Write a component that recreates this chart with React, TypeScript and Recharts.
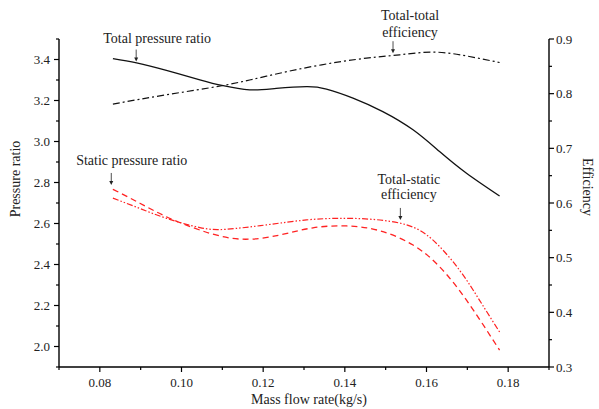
import { LineChart, Line, XAxis, YAxis, ReferenceDot } from 'recharts'

const FONT = '"Liberation Serif", "Times New Roman", serif'

// total pressure ratio (left axis)
const totalPrFlow = [0.0832, 0.089, 0.0963, 0.1045, 0.1102, 0.1167, 0.1232, 0.1306, 0.1355, 0.142, 0.1493, 0.1567, 0.1632, 0.1698, 0.1779]
const totalPr = [3.404, 3.383, 3.347, 3.301, 3.272, 3.252, 3.259, 3.268, 3.256, 3.212, 3.146, 3.057, 2.951, 2.845, 2.734]

// static pressure ratio (left axis)
const staticPrFlow = [0.0832, 0.0898, 0.0963, 0.1045, 0.1143, 0.1241, 0.1322, 0.1404, 0.1485, 0.1567, 0.1632, 0.1698, 0.1779]
const staticPr = [2.767, 2.699, 2.633, 2.568, 2.524, 2.544, 2.579, 2.588, 2.565, 2.495, 2.389, 2.226, 1.982]

// total-total efficiency (right axis)
const ttEffFlow = [0.0832, 0.0963, 0.1102, 0.1208, 0.133, 0.1453, 0.1534, 0.1616, 0.1698, 0.1779]
const ttEff = [0.781, 0.798, 0.815, 0.832, 0.851, 0.865, 0.871, 0.876, 0.869, 0.857]

// total-static efficiency (right axis)
const tsEffFlow = [0.0832, 0.0898, 0.0963, 0.1045, 0.111, 0.1208, 0.1306, 0.1388, 0.1469, 0.1551, 0.1616, 0.1681, 0.173, 0.1779]
const tsEff = [0.609, 0.59, 0.572, 0.555, 0.552, 0.56, 0.569, 0.572, 0.57, 0.56, 0.532, 0.477, 0.422, 0.364]

const xTicks = [0.07, 0.08, 0.09, 0.1, 0.11, 0.12, 0.13, 0.14, 0.15, 0.16, 0.17, 0.18, 0.19]
const leftTicks = [1.9, 2.0, 2.1, 2.2, 2.3, 2.4, 2.5, 2.6, 2.7, 2.8, 2.9, 3.0, 3.1, 3.2, 3.3, 3.4, 3.5]
const rightTicks = [0.3, 0.35, 0.4, 0.45, 0.5, 0.55, 0.6, 0.65, 0.7, 0.75, 0.8, 0.85, 0.9]

// annotation arrow tips, in data units
const noteText = [['Total pressure ratio'], ['Total-total', 'efficiency'], ['Static pressure ratio'], ['Total-static', 'efficiency']]
const noteFlow = [0.0889, 0.1518, 0.0828, 0.1536]
const noteValue = [3.39, 0.874, 2.788, 0.569]
const noteAxis = ['left', 'right', 'left', 'right']

const zip = (xs: number[], ys: number[]) => xs.map((x, i) => ({ x, y: ys[i] }))

function XTick({ x, y, payload }: any) {
  const v = payload.value
  const major = Math.round(v * 100) % 2 === 0
  return (
    <g>
      <line x1={x} y1={y} x2={x} y2={y + (major ? 5 : 3)} stroke="#000" strokeWidth={1.2} />
      {major && (
        <text x={x} y={y + 20} textAnchor="middle" fontSize={13} fontFamily={FONT} fill="#222">
          {v.toFixed(2)}
        </text>
      )}
    </g>
  )
}

function LeftTick({ x, y, payload }: any) {
  const v = payload.value
  const major = Math.round(v * 10) % 2 === 0
  return (
    <g>
      <line x1={x} y1={y} x2={x - (major ? 5 : 3)} y2={y} stroke="#000" strokeWidth={1.2} />
      {major && (
        <text x={x - 9} y={y + 4.5} textAnchor="end" fontSize={13} fontFamily={FONT} fill="#222">
          {v.toFixed(1)}
        </text>
      )}
    </g>
  )
}

function RightTick({ x, y, payload }: any) {
  const v = payload.value
  const major = Math.round(v * 100) % 10 === 0
  return (
    <g>
      <line x1={x} y1={y} x2={x + (major ? 5 : 3)} y2={y} stroke="#000" strokeWidth={1.2} />
      {major && (
        <text x={x + 7} y={y + 4.5} textAnchor="start" fontSize={13} fontFamily={FONT} fill="#222">
          {v.toFixed(1)}
        </text>
      )}
    </g>
  )
}

const textDx = [21, 17, 20.5, 8.5]
const textDy = [[-18.7], [-33.3, -16.6], [-20], [-36, -20.7]]

function makeNote(i: number) {
  return ({ cx, cy }: any) => (
    <g>
      <line x1={cx} y1={cy - 12} x2={cx} y2={cy - 3} stroke="#222" strokeWidth={0.8} />
      <polygon points={`${cx - 2},${cy - 4} ${cx + 2},${cy - 4} ${cx},${cy}`} fill="#222" />
      {noteText[i].map((t, k) => (
        <text
          key={k}
          x={cx + textDx[i]}
          y={cy + textDy[i][k]}
          textAnchor="middle"
          fontSize={14}
          fontFamily={FONT}
          fill="#222"
        >
          {t}
        </text>
      ))}
    </g>
  )
}

export default function App() {
  return (
    <div style={{ position: 'absolute', left: 0, top: 0, background: '#fff' }}>
      <LineChart width={599} height={409} margin={{ top: 39, right: 0, bottom: 0, left: 0 }}>
        <XAxis
          type="number"
          dataKey="x"
          domain={[0.07, 0.19]}
          ticks={xTicks}
          interval={0}
          height={42}
          tickSize={0}
          tickMargin={0}
          tick={<XTick />}
          axisLine={{ stroke: '#000', strokeWidth: 1.4 }}
          label={{
            content: ({ viewBox }: any) => (
              <text
                x={viewBox.x + 250}
                y={viewBox.y + 37}
                textAnchor="middle"
                fontSize={14}
                fontFamily={FONT}
                fill="#222"
              >
                Mass flow rate(kg/s)
              </text>
            ),
          }}
        />
        <YAxis
          yAxisId="left"
          type="number"
          domain={[1.9, 3.5]}
          ticks={leftTicks}
          interval={0}
          width={59}
          tickSize={0}
          tickMargin={0}
          tick={<LeftTick />}
          axisLine={{ stroke: '#000', strokeWidth: 1.4 }}
          label={{
            content: ({ viewBox }: any) => (
              <text
                x={viewBox.x + 15}
                y={viewBox.y + 140}
                transform={`rotate(-90, ${viewBox.x + 15}, ${viewBox.y + 140})`}
                textAnchor="middle"
                dominantBaseline="central"
                fontSize={14}
                fontFamily={FONT}
                fill="#222"
              >
                Pressure ratio
              </text>
            ),
          }}
        />
        <YAxis
          yAxisId="right"
          orientation="right"
          type="number"
          domain={[0.3, 0.9]}
          ticks={rightTicks}
          interval={0}
          width={50}
          tickSize={0}
          tickMargin={0}
          tick={<RightTick />}
          axisLine={{ stroke: '#000', strokeWidth: 1.4 }}
          label={{
            content: ({ viewBox }: any) => (
              <text
                x={viewBox.x + 38}
                y={viewBox.y + 148}
                transform={`rotate(90, ${viewBox.x + 38}, ${viewBox.y + 148})`}
                textAnchor="middle"
                dominantBaseline="central"
                fontSize={14}
                fontFamily={FONT}
                fill="#222"
              >
                Efficiency
              </text>
            ),
          }}
        />
        <Line
          yAxisId="left"
          data={zip(totalPrFlow, totalPr)}
          dataKey="y"
          type="natural"
          stroke="#111"
          strokeWidth={1.3}
          dot={false}
          isAnimationActive={false}
        />
        <Line
          yAxisId="right"
          data={zip(ttEffFlow, ttEff)}
          dataKey="y"
          type="natural"
          stroke="#111"
          strokeWidth={1.2}
          strokeDasharray="7 3 2 3"
          dot={false}
          isAnimationActive={false}
        />
        <Line
          yAxisId="left"
          data={zip(staticPrFlow, staticPr)}
          dataKey="y"
          type="natural"
          stroke="#f22"
          strokeWidth={1.3}
          strokeDasharray="6 4"
          dot={false}
          isAnimationActive={false}
        />
        <Line
          yAxisId="right"
          data={zip(tsEffFlow, tsEff)}
          dataKey="y"
          type="natural"
          stroke="#f22"
          strokeWidth={1.2}
          strokeDasharray="6 2 1.5 2 1.5 2"
          dot={false}
          isAnimationActive={false}
        />
        {noteFlow.map((fx, i) => (
          <ReferenceDot
            key={i}
            yAxisId={noteAxis[i]}
            x={fx}
            y={noteValue[i]}
            r={0}
            shape={makeNote(i)}
          />
        ))}
      </LineChart>
    </div>
  )
}
